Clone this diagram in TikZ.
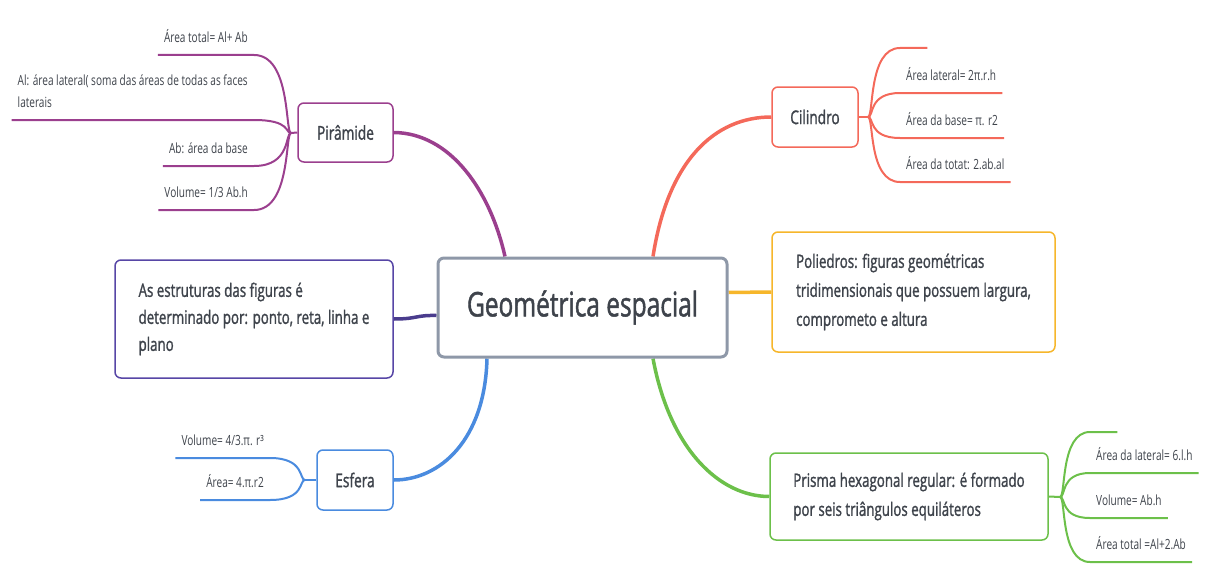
\documentclass[tikz,border=0pt]{standalone}
\usepackage{fontspec}
\setmainfont[FakeStretch=0.72]{Open Sans}
\newfontfamily\semib[FakeStretch=0.72,FakeBold=1.3]{Open Sans}
\usetikzlibrary{calc,backgrounds}
\definecolor{pcol}{HTML}{9B3F8E}
\definecolor{rcol}{HTML}{F4695A}
\definecolor{bcol}{HTML}{4A8BDF}
\definecolor{lcol}{HTML}{5746A6}
\definecolor{ocol}{HTML}{F6B62B}
\definecolor{gcol}{HTML}{6CC04A}
\definecolor{cgray}{HTML}{8E98A8}
\definecolor{txt}{HTML}{3E434B}
\begin{document}
\begin{tikzpicture}[x=1pt,y=-1pt,
  central/.style={draw=cgray, line width=3pt, rounded corners=6pt, fill=white,
    minimum width=289pt, minimum height=99pt, text=txt,
    font=\semib\fontsize{34}{40}\selectfont},
  topic/.style={draw=#1, line width=1.5pt, rounded corners=6pt, fill=white,
    text=txt, font=\semib\fontsize{19}{24}\selectfont},
  boxtxt/.style={draw=#1, line width=1.5pt, rounded corners=6pt, fill=white,
    align=left, text=txt},
  leaf/.style={inner xsep=6pt, inner ysep=9pt, text depth=3pt, text=txt,
    font=\fontsize{14}{22}\selectfont},
  branch/.style={draw=#1, line width=3.5pt},
  twig/.style={draw=#1, line width=2pt}]
\useasboundingbox (0,0) rectangle (1212,578);

% main nodes
\node[central] (c) at (582.5,307.5) {Geométrica espacial};
\node[topic=pcol, minimum width=95pt, minimum height=59pt] (pyr) at (345.5,132.5) {Pirâmide};
\node[topic=rcol, minimum width=86pt, minimum height=60pt] (cil) at (815,117) {Cilindro};
\node[topic=bcol, minimum width=76pt, minimum height=60pt] (esf) at (355,480) {Esfera};
\node[boxtxt=lcol, minimum width=278pt, minimum height=118pt,
  font=\semib\fontsize{18.5}{27}\selectfont] (est) at (254,319)
  {As estruturas das figuras é\\determinado por: ponto, reta, linha e\\plano};
\node[boxtxt=ocol, minimum width=283pt, minimum height=120pt,
  font=\semib\fontsize{18.5}{29}\selectfont] (pol) at (913.5,292)
  {Poliedros: figuras geométricas\\tridimensionais que possuem largura,\\comprometo e altura};
\node[boxtxt=gcol, minimum width=278pt, minimum height=87pt,
  font=\semib\fontsize{18.5}{29}\selectfont] (pri) at (909,496.5)
  {Prisma hexagonal regular: é formado\\por seis triângulos equiláteros};

% junctions
\coordinate (pj) at (291,133);
\coordinate (cj) at (868,117);
\coordinate (ej) at (305,480);
\coordinate (rj) at (1060,497);

% leaves
\node[leaf, anchor=south east] (p1) at (254,55) {Área total= Al+ Ab};
\node[leaf, anchor=south east, align=left] (p2) at (254,120) {Al: área lateral( soma das áreas de todas as faces\\laterais};
\node[leaf, anchor=south east] (p3) at (254,166) {Ab: área da base};
\node[leaf, anchor=south east] (p4) at (254,210) {Volume= 1/3 Ab.h};

\node[leaf, anchor=south west, minimum width=27pt] (c0) at (900,48) {};
\node[leaf, anchor=south west] (c1) at (900,93) {Área lateral= 2π.r.h};
\node[leaf, anchor=south west] (c2) at (900,138) {Área da base= π. r2};
\node[leaf, anchor=south west] (c3) at (900,182) {Área da totat: 2.ab.al};

\node[leaf, anchor=south east] (e1) at (270,458) {Volume= 4/3.π. r³};
\node[leaf, anchor=south east] (e2) at (270,500) {Área= 4.π.r2};

\node[leaf, anchor=south west, minimum width=27pt] (r0) at (1090,432) {};
\node[leaf, anchor=south west] (r1) at (1090,473) {Área da lateral= 6.l.h};
\node[leaf, anchor=south west] (r2) at (1090,518) {Volume= Ab.h};
\node[leaf, anchor=south west] (r3) at (1090,562) {Área total =Al+2.Ab};

\begin{pgfonlayer}{background}
% main branches
\draw[branch=pcol] ([xshift=-77.5pt]c.north) .. controls (490,190) and (450,133) .. (pyr.east);
\draw[branch=rcol] ([xshift=70.5pt]c.north) .. controls (668,160) and (715,117) .. (cil.west);
\draw[branch=bcol] ([xshift=-95.5pt]c.south) .. controls (485,440) and (440,480) .. (esf.east);
\draw[branch=gcol] ([xshift=70.5pt]c.south) .. controls (670,450) and (720,496.5) .. (pri.west);
\draw[branch=lcol!85!black] (est.east) .. controls (418,319) and (415,315) .. ([yshift=-8pt]c.west);
\draw[branch=ocol] ([yshift=15pt]c.east) -- (pol.west);

% stems
\draw[twig=pcol] (pyr.west) -- (pj);
\draw[twig=rcol] (cil.east) -- (cj);
\draw[twig=bcol] (esf.west) -- (ej);
\draw[twig=gcol] (pri.east) -- (rj);

% leaf connectors
\foreach \n in {p1,p2,p3,p4}
  \draw[twig=pcol] (pj) .. controls ($(pj)+(-6,0)$) and (pj |- \n.south) .. (\n.south east) -- (\n.south west);
\foreach \n in {c0,c1,c2,c3}
  \draw[twig=rcol] (cj) .. controls ($(cj)+(6,0)$) and (cj |- \n.south) .. (\n.south west) -- (\n.south east);
\foreach \n in {e1,e2}
  \draw[twig=bcol] (ej) .. controls ($(ej)+(-6,0)$) and (ej |- \n.south) .. (\n.south east) -- (\n.south west);
\foreach \n in {r0,r1,r2,r3}
  \draw[twig=gcol] (rj) .. controls ($(rj)+(6,0)$) and (rj |- \n.south) .. (\n.south west) -- (\n.south east);
\end{pgfonlayer}
\end{tikzpicture}
\end{document}
